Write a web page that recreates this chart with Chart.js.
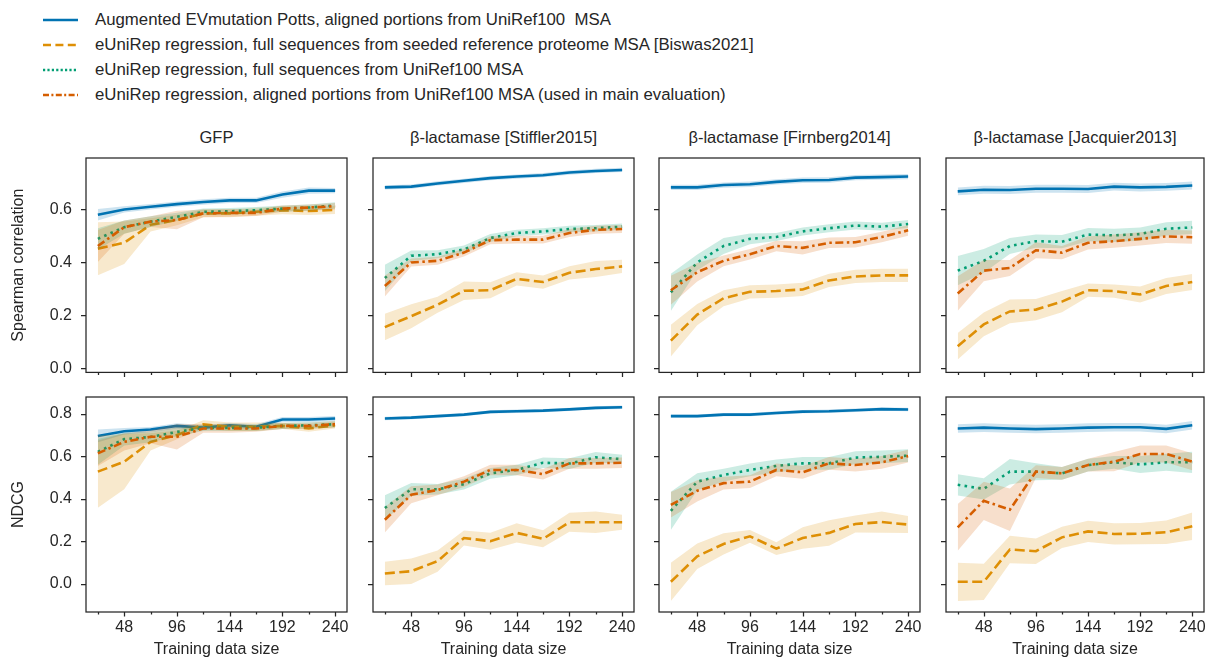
<!DOCTYPE html>
<html>
<head>
<meta charset="utf-8">
<script src="https://cdn.jsdelivr.net/npm/chart.js@4.4.0/dist/chart.umd.min.js"></script>
<style>
  html, body { margin: 0; padding: 0; background: #fff; }
  #fig { position: relative; width: 1205px; height: 661px; overflow: hidden;
         font-family: "Liberation Sans", Arial, sans-serif; color: #262626; }
  #fig canvas { position: absolute; }
  .leg { position: absolute; left: 43px; height: 20px; display: flex; align-items: center;
         font-size: 16.8px; white-space: pre; }
  .leg svg { width: 35px; height: 10px; margin-right: 17px; flex: none; }
  .ptitle { position: absolute; height: 20px; line-height: 20px; text-align: center;
            font-size: 16.5px; white-space: pre; }
</style>
</head>
<body>
<div id="fig"></div>
<script>
// --- data (x = training data size) ---
const sizes = [24, 48, 72, 96, 120, 144, 168, 192, 216, 240];
const panelTitles = ["GFP", "β-lactamase [Stiffler2015]", "β-lactamase [Firnberg2014]", "β-lactamase [Jacquier2013]"];
const spearmanTicks = [0, 0.2, 0.4, 0.6];
const ndcgTicks = [0, 0.2, 0.4, 0.6, 0.8];
const legendLabels = [
  "Augmented EVmutation Potts, aligned portions from UniRef100  MSA",
  "eUniRep regression, full sequences from seeded reference proteome MSA [Biswas2021]",
  "eUniRep regression, full sequences from UniRef100 MSA",
  "eUniRep regression, aligned portions from UniRef100 MSA (used in main evaluation)",
];

// Spearman correlation: one row per panel (GFP, Stiffler, Firnberg, Jacquier)
const pottsSp = [
  [0.58, 0.60, 0.61, 0.62, 0.628, 0.634, 0.634, 0.656, 0.671, 0.671],
  [0.683, 0.686, 0.698, 0.708, 0.718, 0.724, 0.729, 0.739, 0.745, 0.749],
  [0.683, 0.683, 0.692, 0.695, 0.704, 0.71, 0.711, 0.72, 0.722, 0.724],
  [0.668, 0.674, 0.673, 0.678, 0.678, 0.677, 0.686, 0.683, 0.685, 0.69],
];
const pottsSpCi = [
  [0.022, 0.012, 0.01, 0.01, 0.01, 0.01, 0.01, 0.012, 0.012, 0.01],
  [0.008, 0.008, 0.008, 0.008, 0.008, 0.008, 0.008, 0.008, 0.008, 0.008],
  [0.01, 0.01, 0.01, 0.01, 0.01, 0.01, 0.01, 0.01, 0.01, 0.01],
  [0.015, 0.015, 0.015, 0.015, 0.015, 0.015, 0.015, 0.015, 0.015, 0.015],
];
const biswasSp = [
  [0.452, 0.474, 0.542, 0.56, 0.585, 0.585, 0.591, 0.597, 0.594, 0.598],
  [0.156, 0.197, 0.24, 0.293, 0.295, 0.338, 0.326, 0.361, 0.375, 0.385],
  [0.105, 0.203, 0.265, 0.289, 0.292, 0.298, 0.332, 0.347, 0.351, 0.351],
  [0.084, 0.166, 0.215, 0.222, 0.252, 0.295, 0.292, 0.279, 0.311, 0.326],
];
const biswasSpCi = [
  [0.1, 0.08, 0.025, 0.02, 0.015, 0.015, 0.015, 0.015, 0.015, 0.015],
  [0.05, 0.045, 0.03, 0.035, 0.03, 0.025, 0.025, 0.025, 0.03, 0.025],
  [0.06, 0.04, 0.03, 0.025, 0.025, 0.025, 0.025, 0.025, 0.025, 0.025],
  [0.05, 0.045, 0.045, 0.04, 0.04, 0.025, 0.025, 0.03, 0.03, 0.03],
];
const fullSp = [
  [0.489, 0.533, 0.554, 0.572, 0.591, 0.593, 0.597, 0.603, 0.607, 0.615],
  [0.341, 0.425, 0.431, 0.449, 0.492, 0.511, 0.517, 0.526, 0.529, 0.535],
  [0.287, 0.40, 0.462, 0.489, 0.496, 0.517, 0.529, 0.539, 0.535, 0.545],
  [0.369, 0.406, 0.462, 0.48, 0.478, 0.505, 0.502, 0.507, 0.527, 0.532],
];
const fullSpCi = [
  [0.04, 0.025, 0.02, 0.015, 0.012, 0.012, 0.012, 0.012, 0.012, 0.012],
  [0.05, 0.02, 0.015, 0.015, 0.015, 0.012, 0.012, 0.012, 0.012, 0.012],
  [0.07, 0.03, 0.03, 0.02, 0.015, 0.015, 0.015, 0.015, 0.015, 0.015],
  [0.055, 0.045, 0.03, 0.025, 0.025, 0.025, 0.025, 0.025, 0.025, 0.025],
];
const alignedSp = [
  [0.462, 0.533, 0.554, 0.56, 0.585, 0.587, 0.587, 0.603, 0.607, 0.612],
  [0.311, 0.40, 0.406, 0.437, 0.484, 0.486, 0.486, 0.511, 0.523, 0.526],
  [0.295, 0.363, 0.406, 0.431, 0.462, 0.455, 0.474, 0.476, 0.496, 0.521],
  [0.283, 0.369, 0.379, 0.446, 0.437, 0.474, 0.48, 0.489, 0.498, 0.495],
];
const alignedSpCi = [
  [0.06, 0.025, 0.02, 0.035, 0.015, 0.015, 0.012, 0.012, 0.012, 0.012],
  [0.04, 0.015, 0.015, 0.015, 0.015, 0.015, 0.015, 0.015, 0.015, 0.015],
  [0.055, 0.035, 0.02, 0.02, 0.02, 0.025, 0.02, 0.02, 0.02, 0.02],
  [0.065, 0.04, 0.03, 0.03, 0.025, 0.025, 0.025, 0.025, 0.025, 0.025],
];

// NDCG
const pottsNd = [
  [0.695, 0.717, 0.725, 0.742, 0.734, 0.745, 0.738, 0.772, 0.772, 0.777],
  [0.777, 0.781, 0.788, 0.795, 0.808, 0.811, 0.814, 0.82, 0.827, 0.83],
  [0.788, 0.788, 0.795, 0.795, 0.803, 0.809, 0.811, 0.816, 0.821, 0.819],
  [0.73, 0.734, 0.73, 0.727, 0.73, 0.734, 0.736, 0.736, 0.728, 0.745],
];
const pottsNdCi = [
  [0.03, 0.015, 0.012, 0.012, 0.012, 0.012, 0.012, 0.012, 0.012, 0.012],
  [0.008, 0.008, 0.008, 0.008, 0.008, 0.008, 0.008, 0.008, 0.008, 0.008],
  [0.008, 0.008, 0.008, 0.008, 0.008, 0.008, 0.008, 0.008, 0.008, 0.008],
  [0.02, 0.02, 0.02, 0.02, 0.02, 0.02, 0.02, 0.02, 0.02, 0.02],
];
const biswasNd = [
  [0.527, 0.574, 0.667, 0.699, 0.749, 0.738, 0.738, 0.742, 0.73, 0.745],
  [0.048, 0.059, 0.106, 0.215, 0.2, 0.239, 0.211, 0.289, 0.289, 0.289],
  [0.009, 0.129, 0.187, 0.223, 0.165, 0.215, 0.239, 0.281, 0.29, 0.278],
  [0.009, 0.009, 0.161, 0.153, 0.218, 0.246, 0.234, 0.235, 0.242, 0.27],
];
const biswasNdCi = [
  [0.17, 0.13, 0.04, 0.02, 0.02, 0.02, 0.02, 0.015, 0.015, 0.015],
  [0.055, 0.06, 0.05, 0.035, 0.04, 0.045, 0.04, 0.045, 0.05, 0.035],
  [0.09, 0.06, 0.05, 0.03, 0.03, 0.05, 0.06, 0.04, 0.05, 0.04],
  [0.09, 0.085, 0.065, 0.06, 0.05, 0.05, 0.05, 0.05, 0.055, 0.065],
];
const fullNd = [
  [0.62, 0.68, 0.69, 0.714, 0.733, 0.733, 0.733, 0.742, 0.745, 0.75],
  [0.356, 0.444, 0.444, 0.468, 0.519, 0.535, 0.569, 0.565, 0.594, 0.586],
  [0.343, 0.48, 0.511, 0.535, 0.554, 0.566, 0.566, 0.593, 0.597, 0.602],
  [0.465, 0.446, 0.527, 0.527, 0.519, 0.558, 0.571, 0.561, 0.571, 0.571],
];
const fullNdCi = [
  [0.06, 0.03, 0.025, 0.02, 0.015, 0.015, 0.015, 0.015, 0.015, 0.015],
  [0.06, 0.03, 0.025, 0.025, 0.025, 0.025, 0.025, 0.025, 0.025, 0.02],
  [0.09, 0.04, 0.03, 0.03, 0.03, 0.03, 0.03, 0.03, 0.03, 0.03],
  [0.05, 0.05, 0.06, 0.04, 0.03, 0.03, 0.03, 0.04, 0.04, 0.05],
];
const alignedNd = [
  [0.613, 0.667, 0.691, 0.691, 0.73, 0.73, 0.73, 0.742, 0.742, 0.75],
  [0.301, 0.418, 0.441, 0.48, 0.535, 0.535, 0.515, 0.566, 0.566, 0.569],
  [0.371, 0.437, 0.473, 0.48, 0.535, 0.524, 0.566, 0.558, 0.571, 0.6],
  [0.265, 0.39, 0.348, 0.527, 0.519, 0.558, 0.574, 0.61, 0.61, 0.574],
];
const alignedNdCi = [
  [0.06, 0.04, 0.03, 0.06, 0.02, 0.02, 0.015, 0.015, 0.015, 0.015],
  [0.06, 0.04, 0.025, 0.025, 0.025, 0.025, 0.025, 0.025, 0.025, 0.025],
  [0.06, 0.05, 0.03, 0.03, 0.03, 0.03, 0.03, 0.03, 0.03, 0.03],
  [0.11, 0.09, 0.1, 0.03, 0.03, 0.03, 0.045, 0.04, 0.04, 0.04],
];

// --- styling / layout ---
const FONT = "'Liberation Sans', Arial, sans-serif";
const INK = "#262626";
const series = [
  { color: "#0173B2", dash: [], svgDash: "", sp: pottsSp, spCi: pottsSpCi, nd: pottsNd, ndCi: pottsNdCi },
  { color: "#DE8F05", dash: [10, 4.5], svgDash: "8,4.4", sp: biswasSp, spCi: biswasSpCi, nd: biswasNd, ndCi: biswasNdCi },
  { color: "#029E73", dash: [2.6, 4.3], svgDash: "2.2,2.2", sp: fullSp, spCi: fullSpCi, nd: fullNd, ndCi: fullNdCi },
  { color: "#D55E00", dash: [8, 3.5, 2.5, 3.5], svgDash: "6,2.4,2,2.4", sp: alignedSp, spCi: alignedSpCi, nd: alignedNd, ndCi: alignedNdCi },
];

const COL_LEFT = [86, 373, 659, 946];
const PLOT_W = [261, 261, 261, 258];
const YW = 80, TH = 40, RP = 15;
const rows = [
  { top: 158, h: 218, min: -0.015, max: 0.794, ticks: spearmanTicks, label: "Spearman correlation", key: "sp", xh: 20 },
  { top: 397, h: 215, min: -0.133, max: 0.878, ticks: ndcgTicks, label: "NDCG", key: "nd", xh: 50 },
];

const fig = document.getElementById("fig");

// legend
legendLabels.forEach((txt, i) => {
  const row = document.createElement("div");
  row.className = "leg";
  row.style.top = (9.5 + i * 25) + "px";
  const s = series[i];
  row.innerHTML = `<svg viewBox="0 0 35 10"><line x1="0" y1="5" x2="35" y2="5" stroke="${s.color}" stroke-width="2.4"${s.svgDash ? ` stroke-dasharray="${s.svgDash}"` : ""}/></svg>`;
  const span = document.createElement("span");
  span.textContent = txt;
  row.appendChild(span);
  fig.appendChild(row);
});

// panel titles, centred over each plot
panelTitles.forEach((t, p) => {
  const d = document.createElement("div");
  d.className = "ptitle";
  d.textContent = t;
  d.style.left = COL_LEFT[p] + "px";
  d.style.width = PLOT_W[p] + "px";
  d.style.top = "127px";
  fig.appendChild(d);
});

const hexA = (hex, a) => {
  const n = parseInt(hex.slice(1), 16);
  return `rgba(${(n >> 16) & 255},${(n >> 8) & 255},${n & 255},${a})`;
};

// box + tick marks like matplotlib
const framePlugin = {
  id: "frame",
  afterDraw(chart) {
    const { ctx, chartArea: a, scales } = chart;
    ctx.save();
    ctx.strokeStyle = INK;
    ctx.lineWidth = 1.25;
    ctx.strokeRect(a.left, a.top, a.right - a.left, a.bottom - a.top);
    ctx.beginPath();
    scales.x.ticks.forEach((t) => {
      const px = Math.round(scales.x.getPixelForValue(t.value)) + 0.5;
      const len = t.value % 48 === 0 ? 4.5 : 2.5;
      ctx.moveTo(px, a.bottom);
      ctx.lineTo(px, a.bottom + len);
    });
    scales.y.ticks.forEach((t) => {
      const py = Math.round(scales.y.getPixelForValue(t.value)) + 0.5;
      ctx.moveTo(a.left, py);
      ctx.lineTo(a.left - 5, py);
    });
    ctx.stroke();
    ctx.restore();
  },
};

rows.forEach((r, ri) => {
  panelTitles.forEach((title, p) => {
    const canvas = document.createElement("canvas");
    const w = YW + PLOT_W[p] + RP;
    const h = TH + r.h + r.xh;
    canvas.width = w;
    canvas.height = h;
    canvas.style.left = (COL_LEFT[p] - YW) + "px";
    canvas.style.top = (r.top - TH) + "px";
    fig.appendChild(canvas);

    const datasets = [];
    series.forEach((s, k) => {
      const mean = s[r.key][p];
      const ci = s[r.key + "Ci"][p];
      const base = (3 - k) * 3;
      datasets.push({
        data: sizes.map((x, i) => ({ x, y: mean[i] + ci[i] })),
        fill: "+1", backgroundColor: hexA(s.color, 0.2),
        borderColor: "rgba(0,0,0,0)", borderWidth: 0, pointRadius: 0, order: base + 2,
      });
      datasets.push({
        data: sizes.map((x, i) => ({ x, y: mean[i] - ci[i] })),
        fill: false, borderColor: "rgba(0,0,0,0)", borderWidth: 0, pointRadius: 0, order: base + 1,
      });
      datasets.push({
        data: sizes.map((x, i) => ({ x, y: mean[i] })),
        fill: false, borderColor: s.color, borderWidth: 2.6, borderDash: s.dash,
        pointRadius: 0, tension: 0, order: base,
      });
    });

    new Chart(canvas.getContext("2d"), {
      type: "line",
      data: { datasets },
      plugins: [framePlugin],
      options: {
        responsive: false,
        animation: false,
        devicePixelRatio: 1,
        events: [],
        layout: { padding: { top: TH, right: RP, left: 0, bottom: 0 } },
        plugins: {
          legend: { display: false },
          tooltip: { enabled: false },
        },
        scales: {
          x: {
            type: "linear",
            min: 13.2,
            max: 250.8,
            grid: { display: false, drawTicks: false },
            border: { display: false },
            afterBuildTicks: (s) => { s.ticks = sizes.map((v) => ({ value: v })); },
            afterFit: (s) => { s.height = r.xh; },
            ticks: {
              autoSkip: false,
              maxRotation: 0,
              padding: 6,
              color: INK,
              font: { family: FONT, size: 16 },
              callback: (v) => (ri === 1 && v % 48 === 0 ? String(v) : ""),
            },
            title: {
              display: ri === 1,
              text: "Training data size",
              color: INK,
              font: { family: FONT, size: 16 },
              padding: { top: 0, bottom: 2.4 },
            },
          },
          y: {
            min: r.min,
            max: r.max,
            grid: { display: false, drawTicks: false },
            border: { display: false },
            afterBuildTicks: (s) => { s.ticks = r.ticks.map((v) => ({ value: v })); },
            afterFit: (s) => { s.width = YW; },
            ticks: {
              padding: 14,
              color: INK,
              font: { family: FONT, size: 16 },
              callback: (v) => (p === 0 ? v.toFixed(1) : ""),
            },
            title: {
              display: p === 0,
              text: r.label,
              color: INK,
              font: { family: FONT, size: 16 },
              padding: { top: 3, bottom: 0 },
            },
          },
        },
      },
    });
  });
});
</script>
</body>
</html>
